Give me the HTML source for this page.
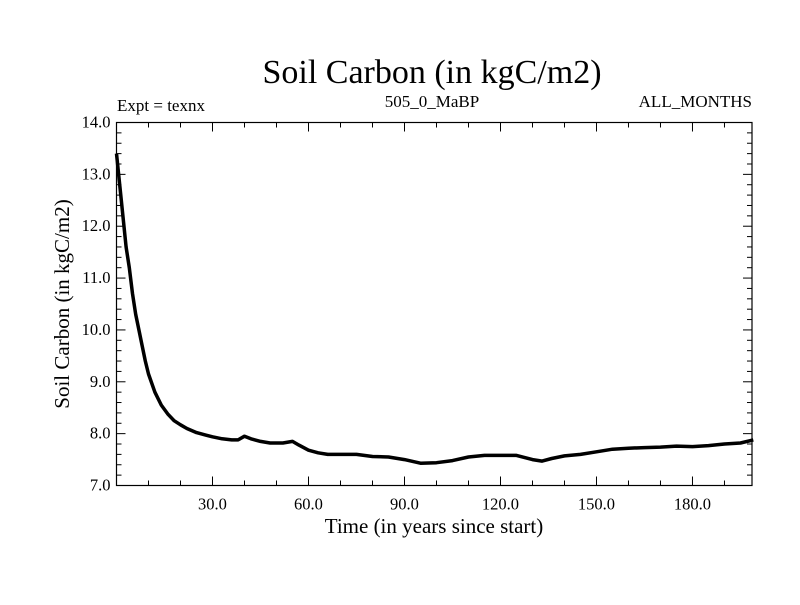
<!DOCTYPE html>
<html><head><meta charset="utf-8"><style>
body{margin:0;background:#fff}
svg text{font-family:"Liberation Serif",serif;fill:#000}
</style></head><body>
<svg id="chart" width="800" height="600" xmlns="http://www.w3.org/2000/svg">
<text x="432" y="83" font-size="34" text-anchor="middle">Soil Carbon (in kgC/m2)</text>
<text x="117" y="111" font-size="17">Expt = texnx</text>
<text x="432" y="107" font-size="17" text-anchor="middle">505_0_MaBP</text>
<text x="752" y="107" font-size="17" text-anchor="end">ALL_MONTHS</text>
<text x="434" y="533" font-size="21" text-anchor="middle">Time (in years since start)</text>
<text transform="translate(69,304) rotate(-90)" font-size="21" text-anchor="middle">Soil Carbon (in kgC/m2)</text>
<g id="axes"></g>
<path id="series" fill="none" stroke="#000" stroke-width="3.5" stroke-linejoin="round"/>
<rect x="116.5" y="122.5" width="635.5" height="363" fill="none" stroke="#000" stroke-width="1.2"/>
</svg>
<script>
const years=[0,1,2,3,4,5,6,7,8,9,10,12,14,16,18,20,22,25,28,30,33,36,38,40,42,45,48,52,55,57,60,63,66,70,75,80,85,90,95,100,105,110,115,120,125,130,133,136,140,145,150,155,160,165,170,175,180,185,190,195,199];
const carbon=[13.4,12.8,12.2,11.6,11.2,10.7,10.3,10.0,9.7,9.4,9.15,8.8,8.55,8.38,8.25,8.17,8.1,8.02,7.97,7.94,7.9,7.88,7.88,7.95,7.9,7.85,7.82,7.82,7.85,7.78,7.68,7.63,7.6,7.6,7.6,7.56,7.55,7.5,7.43,7.44,7.48,7.55,7.58,7.58,7.58,7.5,7.47,7.52,7.57,7.6,7.65,7.7,7.72,7.73,7.74,7.76,7.75,7.77,7.8,7.82,7.88];
const xTicks=[30,60,90,120,150,180];
const xTickLabels=["30.0","60.0","90.0","120.0","150.0","180.0"];
const yTicks=[7,8,9,10,11,12,13,14];
const yTickLabels=["7.0","8.0","9.0","10.0","11.0","12.0","13.0","14.0"];
const X0=116.5,X1=752,Y0=485.5,Y1=122.5,XMIN=0,XMAX=198.6,YMIN=7,YMAX=14;
const sx=v=>X0+(v-XMIN)/(XMAX-XMIN)*(X1-X0);
const sy=v=>Y0-(v-YMIN)/(YMAX-YMIN)*(Y0-Y1);
const NS="http://www.w3.org/2000/svg",g=document.getElementById('axes');
function line(x1,y1,x2,y2,name){const l=document.createElementNS(NS,'line');
l.setAttribute('x1',x1);l.setAttribute('y1',y1);l.setAttribute('x2',x2);l.setAttribute('y2',y2);l.setAttribute('stroke','#000');


g.appendChild(l);}
function text(x,y,s,anchor,name){const t=document.createElementNS(NS,'text');
t.setAttribute('x',x);t.setAttribute('y',y);t.setAttribute('font-size','16.5');t.setAttribute('text-anchor',anchor);t.textContent=s;


g.appendChild(t);}
for(let v=10;v<XMAX;v+=10){const x=sx(v),major=v%30===0;line(x,Y0,x,Y0-(major?9:5),'x-tick');line(x,Y1,x,Y1+(major?9:5),'x-tick-top');}
xTicks.forEach((v,i)=>text(sx(v),Y0+24,xTickLabels[i],'middle','x-tick-label'));
for(let k=0;k<=35;k++){const v=YMIN+k*0.2,y=sy(v),major=k%5===0;line(X0,y,X0+(major?9:5),y,'y-tick');line(X1,y,X1-(major?9:5),y,'y-tick-right');}
yTicks.forEach((v,i)=>text(X0-6,sy(v)+5,yTickLabels[i],'end','y-tick-label'));
document.getElementById('series').setAttribute('d',years.map((v,i)=>(i?'L':'M')+sx(v).toFixed(1)+','+sy(carbon[i]).toFixed(1)).join(''));
</script>
</body></html>
